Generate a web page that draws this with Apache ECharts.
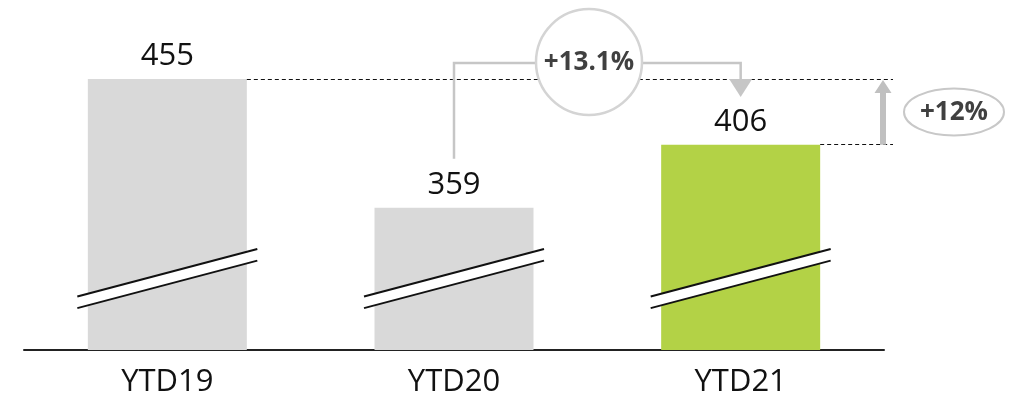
<!DOCTYPE html>
<html>
<head>
<meta charset="utf-8">
<script src="https://cdn.jsdelivr.net/npm/echarts@6/dist/echarts.min.js"></script>
<style>
  html, body { margin: 0; padding: 0; background: #ffffff; }
  #chart { width: 1014px; height: 398px; }
</style>
</head>
<body>
<div id="chart"></div>
<script>
// Year-to-date totals
const categories = ['YTD19', 'YTD20', 'YTD21'];
const values = [455, 359, 406];
const barColors = ['#d9d9d9', '#d9d9d9', '#b3d246'];
const changeLastYear = '+13.1%';
const changeTwoYears = '+12%';

// Broken value axis: bars start from this value, not from zero
const axisMin = 253;
const axisMax = 455;

const FONT = '"Open Sans", "DejaVu Sans", sans-serif';
const BAR_WIDTH = 159;

const chart = echarts.init(document.getElementById('chart'), null, { renderer: 'canvas' });

// "Axis break" mark drawn across each bar: white band between two slanted lines
function renderBreak(params, api) {
  const base = api.coord([api.value(0), axisMin]);
  const x = base[0], y = base[1];
  const half = 90, lowL = 53.5, lowR = 101, gap = 11.6;
  return {
    type: 'group',
    children: [
      { type: 'polygon',
        shape: { points: [[x - half, y - lowL], [x + half, y - lowR], [x + half, y - lowR + gap], [x - half, y - lowL + gap]] },
        style: { fill: '#ffffff' } },
      { type: 'line', shape: { x1: x - half, y1: y - lowL, x2: x + half, y2: y - lowR },
        style: { stroke: '#111111', lineWidth: 2 } },
      { type: 'line', shape: { x1: x - half, y1: y - lowL + gap, x2: x + half, y2: y - lowR + gap },
        style: { stroke: '#111111', lineWidth: 2 } }
    ]
  };
}

chart.setOption({
  animation: false,
  backgroundColor: '#ffffff',
  grid: { left: 24, right: 130, top: 79, bottom: 47 },
  xAxis: {
    type: 'category',
    data: categories,
    axisLine: { lineStyle: { color: '#222222', width: 2 } },
    axisTick: { show: false },
    axisLabel: { fontFamily: FONT, fontSize: 31, color: '#111111', margin: 17 }
  },
  yAxis: {
    type: 'value',
    min: axisMin,
    max: axisMax,
    show: false,
    splitLine: { show: false }
  },
  series: [
    {
      type: 'bar',
      barWidth: BAR_WIDTH,
      data: values.map((v, i) => ({ value: v, itemStyle: { color: barColors[i] } })),
      label: {
        show: true,
        position: 'top',
        distance: 7,
        fontFamily: FONT,
        fontSize: 31,
        color: '#111111'
      },
      z: 2
    },
    {
      type: 'custom',
      renderItem: renderBreak,
      data: categories.map((c, i) => [i]),
      clip: false,
      silent: true,
      z: 3
    }
  ]
});

// Annotations anchored to the bars
const px = i => chart.convertToPixel({ xAxisIndex: 0, yAxisIndex: 0 }, [i, values[i]]);
const p0 = px(0), p1 = px(1), p2 = px(2);
const refEnd = 893;
const grey = '#c6c6c6';
const dash = { stroke: '#111111', lineWidth: 1, lineDash: [4, 3] };
const crisp = y => Math.floor(y) + 0.5;

const bracketY = p0[1] - 16;
const arrowX = 883;

chart.setOption({
  graphic: [
    // reference lines at the YTD19 and YTD21 levels
    { type: 'line', z: 10, shape: { x1: p0[0] + BAR_WIDTH / 2, y1: crisp(p0[1]), x2: refEnd, y2: crisp(p0[1]) }, style: dash },
    { type: 'line', z: 10, shape: { x1: p2[0] + BAR_WIDTH / 2, y1: crisp(p2[1]), x2: refEnd, y2: crisp(p2[1]) }, style: dash },
    // vertical growth arrow between the two reference lines
    { type: 'polygon', z: 11,
      shape: { points: [
        [arrowX - 3, p2[1]], [arrowX - 3, p0[1] + 14], [arrowX - 8.5, p0[1] + 14], [arrowX, p0[1] + 1],
        [arrowX + 8.5, p0[1] + 14], [arrowX + 3, p0[1] + 14], [arrowX + 3, p2[1]]
      ] },
      style: { fill: '#c0c0c0' } },
    // bracket from YTD20 to YTD21
    { type: 'polyline', z: 12,
      shape: { points: [[p1[0], p1[1] - 49], [p1[0], bracketY], [p2[0], bracketY], [p2[0], p0[1] + 2]] },
      style: { stroke: grey, lineWidth: 2.5, fill: null } },
    { type: 'polygon', z: 12,
      shape: { points: [[p2[0] - 11.5, p0[1]], [p2[0] + 11.5, p0[1]], [p2[0], p0[1] + 18]] },
      style: { fill: grey } },
    // growth bubble
    { type: 'circle', z: 13, shape: { cx: 589, cy: 62, r: 53 },
      style: { fill: '#ffffff', stroke: '#d4d4d4', lineWidth: 2.5 } },
    { type: 'text', z: 14, x: 589, y: 63,
      style: { text: changeLastYear, fontFamily: FONT, fontWeight: 'bold', fontSize: 26,
               fill: '#404040', align: 'center', verticalAlign: 'middle' } },
    // growth pill next to the arrow
    { type: 'ellipse', z: 13, shape: { cx: 954, cy: 112, rx: 50, ry: 23.5 },
      style: { fill: '#ffffff', stroke: '#c8c8c8', lineWidth: 2 } },
    { type: 'text', z: 14, x: 954, y: 113,
      style: { text: changeTwoYears, fontFamily: FONT, fontWeight: 'bold', fontSize: 26,
               fill: '#404040', align: 'center', verticalAlign: 'middle' } }
  ]
});
</script>
</body>
</html>
